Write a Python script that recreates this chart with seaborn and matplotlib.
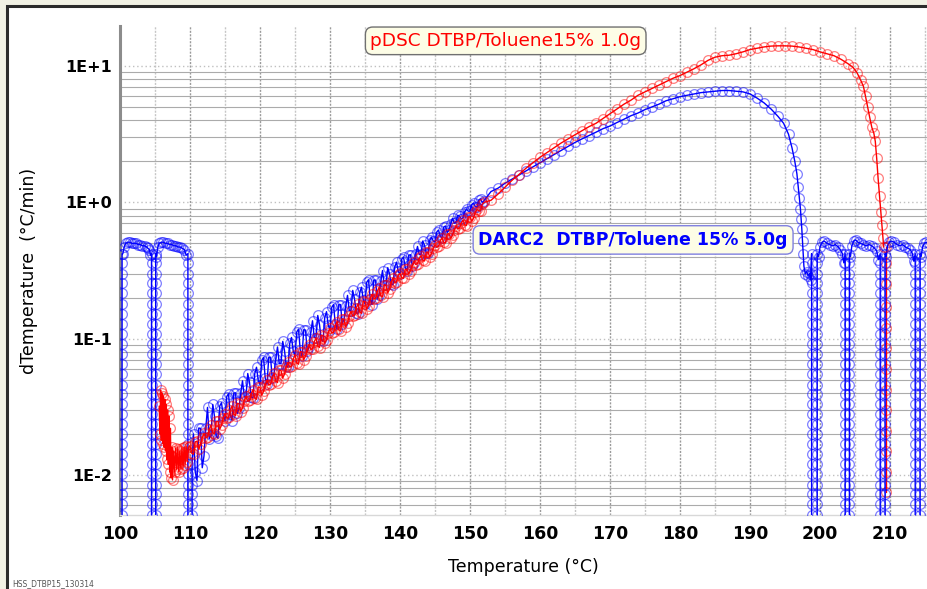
import numpy as np
import pandas as pd
import matplotlib
matplotlib.use("Agg")
import matplotlib.pyplot as plt
import seaborn as sns
from matplotlib.patches import Rectangle
from matplotlib.ticker import NullFormatter

# ---------------- data ----------------
# circle levels along a vertical off-scale dip of the rate signal
drop_levels = [0.42, 0.36, 0.30, 0.255, 0.215, 0.18, 0.152, 0.128, 0.108, 0.091,
               0.077, 0.065, 0.055, 0.046, 0.039, 0.033, 0.028, 0.0235, 0.020, 0.0168,
               0.0142, 0.012, 0.0101, 0.0085, 0.0072, 0.0061, 0.0051, 0.0043, 0.0036]

# DARC2 (blue)
blue_plat1_T = [100.4, 100.6, 100.8, 101.1, 101.4, 101.7, 102.0, 102.3, 102.6, 102.9,
                103.2, 103.5, 103.8, 104.0, 104.2, 104.35]
blue_plat1_v = [0.42, 0.47, 0.50, 0.51, 0.51, 0.50, 0.50, 0.50, 0.49, 0.49,
                0.48, 0.48, 0.47, 0.46, 0.45, 0.41]
blue_plat2_T = [105.2, 105.4, 105.6, 105.9, 106.2, 106.5, 106.8, 107.1, 107.4, 107.7,
                108.0, 108.3, 108.6, 108.9, 109.2, 109.45]
blue_plat2_v = [0.40, 0.47, 0.50, 0.51, 0.51, 0.50, 0.50, 0.49, 0.49, 0.48,
                0.48, 0.47, 0.47, 0.46, 0.45, 0.41]
# noisy band, first set of samples
blue_band_T = [110.5, 111.0, 111.5, 112.0, 112.5, 113.0, 113.5, 114.0, 114.5, 115.0,
               115.5, 116.0, 116.5, 117.0, 117.5, 118.0, 118.5, 119.0, 119.5, 120.0,
               120.5, 121.0, 121.5, 122.0, 122.5, 123.0, 123.5, 124.0, 124.5, 125.0,
               125.5, 126.0, 126.5, 127.0, 127.5, 128.0, 128.5, 129.0, 129.5, 130.0,
               130.5, 131.0, 131.5, 132.0, 132.5, 133.0, 133.5, 134.0, 134.5, 135.0,
               135.5, 136.0, 136.5, 137.0, 137.5, 138.0, 138.5, 139.0, 139.5, 140.0,
               140.5, 141.0, 141.5, 142.0, 142.5, 143.0, 143.5, 144.0, 144.5, 145.0,
               145.5, 146.0, 146.5, 147.0, 147.5, 148.0, 148.5, 149.0, 149.5, 150.0,
               150.5, 151.0, 151.5, 152.0]
blue_band_v = [0.020, 0.0091, 0.022, 0.0138, 0.0313, 0.0195, 0.0269, 0.0186, 0.0339, 0.0251,
               0.0395, 0.0251, 0.0401, 0.0308, 0.0491, 0.0377, 0.0479, 0.0367, 0.0617, 0.0461,
               0.0729, 0.0462, 0.0731, 0.0553, 0.0869, 0.0655, 0.0818, 0.0617, 0.102, 0.0748,
               0.1175, 0.0741, 0.1157, 0.0867, 0.1353, 0.1014, 0.1268, 0.0955, 0.1578, 0.1159,
               0.1778, 0.1175, 0.1778, 0.138, 0.2077, 0.1603, 0.196, 0.1514, 0.2385, 0.1799,
               0.2707, 0.1778, 0.2692, 0.2089, 0.316, 0.2455, 0.2995, 0.2483, 0.3642, 0.2965,
               0.398, 0.316, 0.413, 0.3614, 0.4747, 0.4178, 0.4847, 0.4266, 0.555, 0.514,
               0.627, 0.5495, 0.6707, 0.6266, 0.7645, 0.7145, 0.7898, 0.767, 0.891, 0.861,
               0.989, 0.923, 1.059, 1.029]
# noisy band, in-between samples
blue_band2_T = [110.75, 111.25, 111.75, 112.25, 112.75, 113.25, 113.75, 114.25, 114.75, 115.25,
                115.75, 116.25, 116.75, 117.25, 117.75, 118.25, 118.75, 119.25, 119.75, 120.25,
                120.75, 121.25, 121.75, 122.25, 122.75, 123.25, 123.75, 124.25, 124.75, 125.25,
                125.75, 126.25, 126.75, 127.25, 127.75, 128.25, 128.75, 129.25, 129.75, 130.25,
                130.75, 131.25, 131.75, 132.25, 132.75, 133.25, 133.75, 134.25, 134.75, 135.25,
                135.75, 136.25, 136.75, 137.25, 137.75, 138.25, 138.75, 139.25, 139.75, 140.25,
                140.75, 141.25, 141.75, 142.25, 142.75, 143.25, 143.75, 144.25, 144.75, 145.25,
                145.75, 146.25, 146.75, 147.25, 147.75, 148.25, 148.75, 149.25, 149.75, 150.25,
                150.75, 151.25, 151.75]
blue_band2_v = [0.0105, 0.0221, 0.0113, 0.0220, 0.0185, 0.0329, 0.0192, 0.0321, 0.0270, 0.0376,
                0.0278, 0.0399, 0.0283, 0.0399, 0.0374, 0.0555, 0.0374, 0.0555, 0.0494, 0.0692,
                0.0512, 0.0730, 0.0513, 0.0711, 0.0656, 0.0955, 0.0634, 0.0923, 0.0809, 0.112,
                0.0822, 0.1164, 0.0807, 0.1112, 0.1019, 0.148, 0.0982, 0.1429, 0.1253, 0.1698,
                0.1288, 0.1778, 0.1288, 0.1734, 0.1607, 0.2259, 0.1552, 0.2183, 0.1932, 0.2594,
                0.1954, 0.2692, 0.1950, 0.2630, 0.2455, 0.3319, 0.2512, 0.3357, 0.3112, 0.3837,
                0.3311, 0.4093, 0.3436, 0.4198, 0.4130, 0.5200, 0.4276, 0.5260, 0.5200, 0.6053,
                0.5610, 0.6592, 0.5998, 0.6982, 0.7031, 0.8035, 0.7586, 0.8559, 0.861, 0.9605,
                0.928, 1.041, 0.994]
blue_curve_T = [153, 154, 155, 156, 157, 158, 159, 160, 161, 162, 163, 164, 165, 166,
                167, 168, 169, 170, 171, 172, 173, 174, 175, 176, 177, 178, 179, 180,
                181, 182, 183, 184, 185, 186, 187, 188, 189, 190, 191, 192, 193, 194,
                194.8, 195.5, 196.0, 196.4, 196.7, 196.9, 197.05, 197.2, 197.3, 197.4,
                197.5, 197.6, 197.7, 197.9, 198.1, 198.3, 198.5, 198.65]
blue_curve_v = [1.20, 1.27, 1.38, 1.48, 1.585, 1.70, 1.82, 1.95, 2.09, 2.24, 2.40, 2.57,
                2.75, 2.92, 3.09, 3.27, 3.47, 3.63, 3.85, 4.07, 4.32, 4.52, 4.79, 5.01,
                5.25, 5.56, 5.75, 5.96, 6.10, 6.24, 6.38, 6.46, 6.53, 6.61, 6.61, 6.53,
                6.46, 6.24, 5.82, 5.37, 4.84, 4.27,
                3.80, 3.16, 2.51, 2.0, 1.62, 1.29, 1.08, 0.90, 0.76, 0.64,
                0.52, 0.42, 0.34, 0.30, 0.31, 0.29, 0.30, 0.27]
blue_plat3_T = [199.8, 200.0, 200.3, 200.6, 201.0, 201.4, 201.8, 202.2, 202.6, 202.9, 203.2, 203.4]
blue_plat3_v = [0.40, 0.47, 0.51, 0.52, 0.50, 0.49, 0.48, 0.49, 0.47, 0.45, 0.42, 0.36]
blue_plat4_T = [204.35, 204.55, 204.8, 205.1, 205.4, 205.8, 206.2, 206.6, 207.0, 207.4,
                207.8, 208.1, 208.35]
blue_plat4_v = [0.40, 0.48, 0.52, 0.53, 0.51, 0.50, 0.49, 0.48, 0.49, 0.48, 0.46, 0.44, 0.38]
blue_plat5_T = [209.45, 209.65, 209.9, 210.2, 210.6, 211.0, 211.4, 211.8, 212.2, 212.6,
                212.9, 213.2, 213.4]
blue_plat5_v = [0.40, 0.48, 0.51, 0.52, 0.51, 0.49, 0.48, 0.49, 0.47, 0.46, 0.45, 0.42, 0.37]
blue_plat6_T = [214.45, 214.65, 214.9, 215.2, 215.5]
blue_plat6_v = [0.40, 0.47, 0.50, 0.51, 0.50]
# temperatures of the down / up columns of each dip
blue_rise_start = 100.3
blue_dip_down = [104.5, 109.7, 198.8, 203.6, 208.6, 213.6]
blue_dip_up = [105.1, 110.3, 199.6, 204.2, 209.3, 214.3]

# pDSC (red)
red_blob_T = [105.6, 105.7, 105.8, 105.9, 106.0, 106.1, 106.2, 106.3, 106.4, 106.5,
              106.6, 106.7, 106.8, 106.9, 107.0, 107.1, 107.2, 107.3, 107.4, 107.5,
              107.65, 107.8, 107.95, 108.1, 108.25, 108.4, 108.55, 108.7, 108.85, 109.0,
              109.15, 109.3, 109.45, 109.6, 109.8]
red_blob_v = [0.032, 0.020, 0.042, 0.018, 0.040, 0.017, 0.038, 0.016, 0.036, 0.015,
              0.033, 0.013, 0.030, 0.012, 0.027, 0.0105, 0.022, 0.0095, 0.016, 0.0092,
              0.0150, 0.0105, 0.0158, 0.0110, 0.0155, 0.0105, 0.0150, 0.0110, 0.0158, 0.0112,
              0.0160, 0.0118, 0.0162, 0.0125, 0.0160]
red_band_T = [110.0, 110.5, 111.0, 111.5, 112.0, 112.5, 113.0, 113.5, 114.0, 114.5,
              115.0, 115.5, 116.0, 116.5, 117.0, 117.5, 118.0, 118.5, 119.0, 119.5,
              120.0, 120.5, 121.0, 121.5, 122.0, 122.5, 123.0, 123.5, 124.0, 124.5,
              125.0, 125.5, 126.0, 126.5, 127.0, 127.5, 128.0, 128.5, 129.0, 129.5,
              130.0, 130.5, 131.0, 131.5, 132.0, 132.5, 133.0, 133.5, 134.0, 134.5,
              135.0, 135.5, 136.0, 136.5, 137.0, 137.5, 138.0, 138.5, 139.0, 139.5,
              140.0, 140.5, 141.0, 141.5, 142.0, 142.5, 143.0, 143.5, 144.0, 144.5,
              145.0, 145.5, 146.0, 146.5, 147.0, 147.5, 148.0, 148.5, 149.0, 149.5,
              150.0, 150.5, 151.0, 151.5, 152.0]
red_band_v = [0.0164, 0.0142, 0.0177, 0.0168, 0.0202, 0.0191, 0.0232, 0.0200, 0.0247, 0.0232,
              0.0282, 0.0265, 0.0320, 0.0272, 0.0333, 0.0311, 0.0377, 0.0352, 0.0422, 0.0359,
              0.0439, 0.0410, 0.0497, 0.0464, 0.0556, 0.0476, 0.0585, 0.0550, 0.0670, 0.0630,
              0.0759, 0.0649, 0.0799, 0.0746, 0.0904, 0.0844, 0.1012, 0.0861, 0.1053, 0.0984,
              0.1191, 0.1113, 0.1334, 0.1135, 0.1388, 0.1305, 0.1589, 0.1493, 0.1799, 0.1531,
              0.1873, 0.1750, 0.2118, 0.1979, 0.2371, 0.2018, 0.2469, 0.2307, 0.2793, 0.2609,
              0.302, 0.2770, 0.3236, 0.3158, 0.3664, 0.3556, 0.4074, 0.3715, 0.4315, 0.4211,
              0.4887, 0.4771, 0.5495, 0.5040, 0.5888, 0.5748, 0.6668, 0.6471, 0.7413, 0.6761,
              0.7852, 0.7664, 0.8892, 0.8680, 1.0]
red_band2_T = [110.25, 110.75, 111.25, 111.75, 112.25, 112.75, 113.25, 113.75, 114.25, 114.75,
               115.25, 115.75, 116.25, 116.75, 117.25, 117.75, 118.25, 118.75, 119.25, 119.75,
               120.25, 120.75, 121.25, 121.75, 122.25, 122.75, 123.25, 123.75, 124.25, 124.75,
               125.25, 125.75, 126.25, 126.75, 127.25, 127.75, 128.25, 128.75, 129.25, 129.75,
               130.25, 130.75, 131.25, 131.75, 132.25, 132.75, 133.25, 133.75, 134.25, 134.75,
               135.25, 135.75, 136.25, 136.75, 137.25, 137.75, 138.25, 138.75, 139.25, 139.75,
               140.25, 140.75, 141.25, 141.75, 142.25, 142.75, 143.25, 143.75, 144.25, 144.75,
               145.25, 145.75, 146.25, 146.75, 147.25, 147.75, 148.25, 148.75, 149.25, 149.75,
               150.25, 150.75, 151.25, 151.75]
red_band2_v = [0.01445, 0.0175, 0.0154, 0.0187, 0.0188, 0.0216, 0.0204, 0.0247, 0.0217, 0.0261,
               0.0261, 0.0299, 0.0280, 0.0336, 0.0292, 0.0350, 0.0348, 0.0395, 0.0369, 0.0443,
               0.0385, 0.0461, 0.0458, 0.0521, 0.0489, 0.0589, 0.0514, 0.0620, 0.0619, 0.0710,
               0.0666, 0.0804, 0.0700, 0.0839, 0.0834, 0.0948, 0.0886, 0.1062, 0.0923, 0.1105,
               0.1099, 0.1250, 0.1168, 0.1400, 0.1219, 0.1471, 0.1469, 0.1683, 0.1576, 0.1888,
               0.1641, 0.1966, 0.1954, 0.2223, 0.2077, 0.2489, 0.2163, 0.2592, 0.2576, 0.2931,
               0.2793, 0.3221, 0.2992, 0.3451, 0.3499, 0.3873, 0.3758, 0.4305, 0.3990, 0.4603,
               0.4677, 0.5212, 0.5082, 0.5861, 0.5445, 0.6281, 0.6368, 0.7047, 0.6839, 0.7834,
               0.7285, 0.8443, 0.8640, 0.9672]
red_curve_T = [153, 154, 155, 156, 157, 158, 159, 160, 161, 162, 163, 164, 165, 166,
               167, 168, 169, 170, 171, 172, 173, 174, 175, 176, 177, 178, 179, 180,
               181, 182, 183, 184, 185, 186, 187, 188, 189, 190, 191, 192, 193, 194,
               195, 196, 197, 198, 199, 200, 201, 202, 203, 204,
               204.7, 205.3, 205.8, 206.2, 206.5, 206.8, 207.1, 207.4, 207.7, 207.9,
               208.1, 208.3, 208.5, 208.7, 208.85, 209.0, 209.1]
red_curve_v = [1.035, 1.15, 1.29, 1.45, 1.60, 1.78, 1.95, 2.14, 2.32, 2.51, 2.72, 2.92,
               3.13, 3.35, 3.59, 3.80, 4.12, 4.47, 4.84, 5.25, 5.62, 6.10, 6.46, 6.84,
               7.24, 7.67, 8.13, 8.51, 9.02, 9.55, 10.2, 11.0, 11.6, 11.9, 12.0, 12.3,
               12.7, 13.2, 13.5, 13.8, 14.0, 14.06, 14.06, 14.0, 13.8, 13.5, 13.2, 12.7,
               12.3, 11.9, 11.2, 10.4,
               9.8, 8.9, 7.9, 7.1, 6.0, 5.0, 4.2, 3.55, 3.2, 2.8,
               2.1, 1.5, 1.12, 0.85, 0.68, 0.55, 0.47]
red_tail_T = 209.4
red_tail_v = [0.47, 0.36, 0.25, 0.17, 0.12, 0.085, 0.06, 0.042, 0.03, 0.021, 0.015, 0.0105, 0.0075]

ytick_vals = [0.01, 0.1, 1, 10]
ytick_labels = ["1E-2", "1E-1", "1E+0", "1E+1"]
xtick_vals = [100, 110, 120, 130, 140, 150, 160, 170, 180, 190, 200, 210]

# ---------------- assemble series in time order ----------------
def column(t, levels):
    return [t] * len(levels), list(levels)

def merged(t1, v1, t2, v2):
    pairs = sorted(zip(list(t1) + list(t2), list(v1) + list(v2)), key=lambda p: p[0])
    return [p[0] for p in pairs], [p[1] for p in pairs]

def join(*parts):
    T, V = [], []
    for t, v in parts:
        T += list(t)
        V += list(v)
    return T, V

rev = drop_levels[::-1]
low_rev = [lv for lv in rev if lv < 0.013]
bT, bV = join(
    column(blue_rise_start, rev),
    (blue_plat1_T, blue_plat1_v),
    column(blue_dip_down[0], drop_levels), column(blue_dip_up[0], rev),
    (blue_plat2_T, blue_plat2_v),
    column(blue_dip_down[1], drop_levels), column(blue_dip_up[1], low_rev),
    merged(blue_band_T, blue_band_v, blue_band2_T, blue_band2_v),
    (blue_curve_T, blue_curve_v),
    column(blue_dip_down[2], drop_levels), column(blue_dip_up[2], rev),
    (blue_plat3_T, blue_plat3_v),
    column(blue_dip_down[3], drop_levels), column(blue_dip_up[3], rev),
    (blue_plat4_T, blue_plat4_v),
    column(blue_dip_down[4], drop_levels), column(blue_dip_up[4], rev),
    (blue_plat5_T, blue_plat5_v),
    column(blue_dip_down[5], drop_levels), column(blue_dip_up[5], rev),
    (blue_plat6_T, blue_plat6_v),
)
rT, rV = join(
    (red_blob_T, red_blob_v),
    merged(red_band_T, red_band_v, red_band2_T, red_band2_v),
    (red_curve_T, red_curve_v),
)
tT, tV = column(red_tail_T, red_tail_v)
blue_df = pd.DataFrame({"T": bT, "v": bV})
red_df = pd.DataFrame({"T": rT, "v": rV})
red_tail_df = pd.DataFrame({"T": tT, "v": tV})

# ---------------- figure ----------------
sns.set_theme(style="white")
plt.rcParams["font.family"] = ["DejaVu Sans"]

W, H = 927, 589
fig = plt.figure(figsize=(W / 100, H / 100), dpi=100)
fig.patch.set_facecolor("white")
fig.patches.append(Rectangle((0, 0), 1, 1, transform=fig.transFigure,
                             facecolor="#f1f1e4", edgecolor="none", zorder=-10))
fig.patches.append(Rectangle((6.5 / W, -0.1), 1.2, 1 - 6 / H + 0.1, transform=fig.transFigure,
                             facecolor="white", edgecolor="#2b2b2b", linewidth=2.2, zorder=-9))

ax = fig.add_axes([120 / W, 74 / H, 1 - 120 / W, 489 / H])
ax.set_facecolor("white")
ax.set_yscale("log")

style = dict(sort=False, estimator=None, ax=ax, linewidth=1.0, marker="o",
             markersize=7.0, markerfacecolor="none", markeredgewidth=0.9, legend=False)
sns.lineplot(data=red_tail_df, x="T", y="v", color="#ff0000",
             markeredgecolor=(1, 0, 0, 0.5), zorder=3, **style)
sns.lineplot(data=blue_df, x="T", y="v", color="#0000ff",
             markeredgecolor=(0, 0, 1, 0.5), zorder=4, **style)
sns.lineplot(data=red_df, x="T", y="v", color="#ff0000",
             markeredgecolor=(1, 0, 0, 0.5), zorder=5, **style)

ax.set_xlim(100, 100 + (W - 120) / 7.0)
ax.set_ylim(10 ** -2.2935, 10 ** 1.2935)

ax.set_xticks(xtick_vals)
ax.set_xticks([105, 115, 125, 135, 145, 155, 165, 175, 185, 195, 205, 215], minor=True)
ax.set_xticklabels([str(v) for v in xtick_vals])
ax.set_yticks(ytick_vals)
ax.set_yticklabels(ytick_labels)
ax.set_yticks([k * 10.0 ** e for e in range(-3, 2) for k in range(2, 10)
               if 10 ** -2.2935 < k * 10.0 ** e < 10 ** 1.2935], minor=True)
ax.yaxis.set_minor_formatter(NullFormatter())
ax.tick_params(axis="both", which="both", length=0)
ax.tick_params(axis="x", which="major", pad=7, labelsize=12.5)
ax.tick_params(axis="y", which="major", pad=6, labelsize=11.5)
for lab in ax.get_xticklabels() + ax.get_yticklabels():
    lab.set_fontweight("bold")
    lab.set_color("black")

ax.set_axisbelow(True)
ax.grid(False)
ax.xaxis.grid(True, which="major", color="#9a9a9a", linestyle=(0, (1.5, 1)), linewidth=1)
ax.xaxis.grid(True, which="minor", color="#c6c6c6", linestyle=(0, (1.5, 1)), linewidth=1)
ax.yaxis.grid(True, which="major", color="#c0c0c0", linestyle=(0, (1, 2)), linewidth=1)
ax.yaxis.grid(True, which="minor", color="#ababab", linestyle="-", linewidth=0.8)

for s in ["top", "right"]:
    ax.spines[s].set_visible(False)
ax.spines["left"].set_color("#8c8c8c")
ax.spines["left"].set_linewidth(2.2)
ax.spines["bottom"].set_color("#d8d8d8")
ax.spines["bottom"].set_linewidth(1)

ax.set_xlabel("Temperature (°C)", fontsize=12.5, color="black", labelpad=11)
ax.set_ylabel("dTemperature  (°C/min)", fontsize=12.5, color="black")
ax.yaxis.set_label_coords((38 - 120) / (W - 120), 0.5)

ax.text(155.1, 15.3, "pDSC DTBP/Toluene15% 1.0g", color="#ff0000", fontsize=13.3,
        ha="center", va="center", zorder=6,
        bbox=dict(boxstyle="round,pad=0.26,rounding_size=0.4", fc="#fdfde6",
                  ec="#707070", lw=1))
ax.text(173.3, 0.53, "DARC2  DTBP/Toluene 15% 5.0g", color="#0000ff", fontsize=12.5,
        fontweight="bold", ha="center", va="center", zorder=6,
        bbox=dict(boxstyle="round,pad=0.3,rounding_size=0.4", fc="#fdfde6",
                  ec="#8080e0", lw=1))

fig.text(12 / W, 1 - 586 / H, "HSS_DTBP15_130314", fontsize=5.5, color="#555555",
         ha="left", va="baseline")

fig.savefig("out.png", dpi=100)
